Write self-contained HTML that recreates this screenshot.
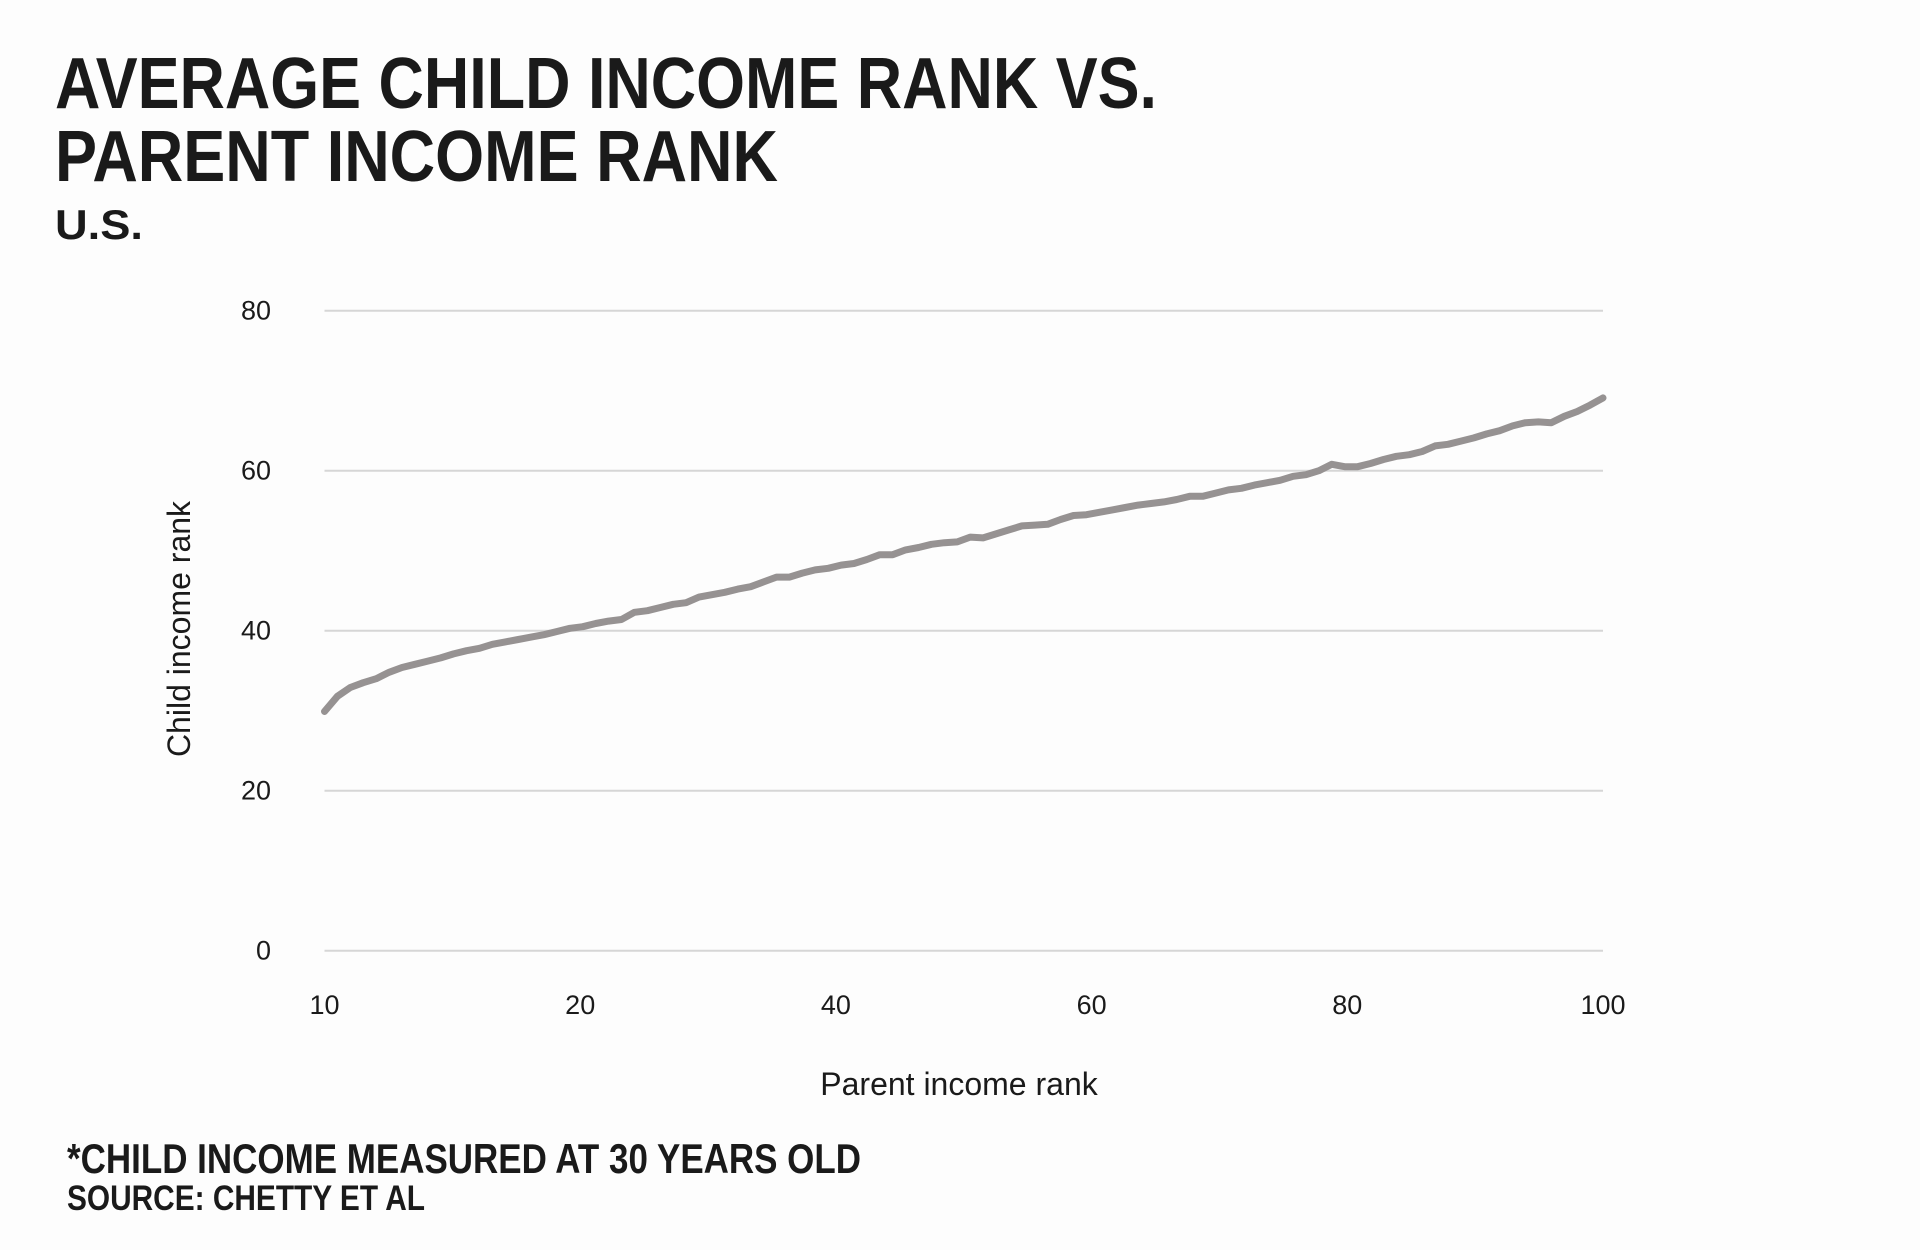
<!DOCTYPE html>
<html><head><meta charset="utf-8"><style>
html,body{margin:0;padding:0;background:#fdfdfd;}
svg{display:block;}
</style></head><body>
<svg id="chart" width="1920" height="1250" viewBox="0 0 1920 1250" xmlns="http://www.w3.org/2000/svg">
<rect width="1920" height="1250" fill="#fdfdfd"/>
<g font-family="'Liberation Sans', sans-serif" fill="#1a1a1a">
<text x="55" y="108" font-size="72" font-weight="bold" textLength="1102" lengthAdjust="spacingAndGlyphs">AVERAGE CHILD INCOME RANK VS.</text>
<text x="55" y="181" font-size="72" font-weight="bold" textLength="723" lengthAdjust="spacingAndGlyphs">PARENT INCOME RANK</text>
<text x="55" y="239" font-size="42" font-weight="bold" textLength="88" lengthAdjust="spacingAndGlyphs">U.S.</text>
<text x="67" y="1173" font-size="42" font-weight="bold" textLength="794" lengthAdjust="spacingAndGlyphs">*CHILD INCOME MEASURED AT 30 YEARS OLD</text>
<text x="67" y="1210" font-size="35" font-weight="bold" textLength="358" lengthAdjust="spacingAndGlyphs">SOURCE: CHETTY ET AL</text>
<text x="959" y="1095" font-size="32" text-anchor="middle">Parent income rank</text>
<text transform="translate(190,629) rotate(-90)" font-size="32" text-anchor="middle">Child income rank</text>
</g>
<g id="grid"></g>
<g id="yticks"></g>
<g id="xticks"></g>
<g id="series"></g>
</svg>
<script>
const yTickValues = [0, 20, 40, 60, 80];
const xTickLabels = ["10", "20", "40", "60", "80", "100"];
const parentRank = [];
for (let i = 1; i <= 100; i++) parentRank.push(i);
const childRank = [29.9,31.8,32.9,33.5,34.0,34.8,35.4,35.8,36.2,36.6,
37.1,37.5,37.8,38.3,38.6,38.9,39.2,39.5,39.9,40.3,
40.5,40.9,41.2,41.4,42.3,42.5,42.9,43.3,43.5,44.2,
44.5,44.8,45.2,45.5,46.1,46.7,46.7,47.2,47.6,47.8,
48.2,48.4,48.9,49.5,49.5,50.1,50.4,50.8,51.0,51.1,
51.7,51.6,52.1,52.6,53.1,53.2,53.3,53.9,54.4,54.5,
54.8,55.1,55.4,55.7,55.9,56.1,56.4,56.8,56.8,57.2,
57.6,57.8,58.2,58.5,58.8,59.3,59.5,60.0,60.8,60.5,
60.5,60.9,61.4,61.8,62.0,62.4,63.1,63.3,63.7,64.1,
64.6,65.0,65.6,66.0,66.1,66.0,66.8,67.4,68.2,69.1];

const NS = "http://www.w3.org/2000/svg";
const X0 = 324.5, X1 = 1603, Y0 = 950.7, PX_PER_UNIT = 8;
function xScale(p){ return X0 + (p - 1) / 99 * (X1 - X0); }
function xTickPos(i){ return X0 + i / (xTickLabels.length - 1) * (X1 - X0); }
function yScale(v){ return Y0 - v * PX_PER_UNIT; }

const grid = document.getElementById('grid');
const yt = document.getElementById('yticks');
yTickValues.forEach(v => {
  const l = document.createElementNS(NS, 'line');
  l.setAttribute('x1', X0); l.setAttribute('x2', X1);
  l.setAttribute('y1', yScale(v)); l.setAttribute('y2', yScale(v));
  l.setAttribute('stroke', '#d6d6d6'); l.setAttribute('stroke-width', '2');
  
  
  grid.appendChild(l);
  const t = document.createElementNS(NS, 'text');
  t.setAttribute('x', 271); t.setAttribute('y', yScale(v) + 9);
  t.setAttribute('text-anchor', 'end'); t.setAttribute('font-size', '27');
  t.setAttribute('font-family', "'Liberation Sans', sans-serif"); t.setAttribute('fill', '#1a1a1a');
  t.textContent = v;
  
  
  yt.appendChild(t);
});
const xt = document.getElementById('xticks');
xTickLabels.forEach((lab, i) => {
  const t = document.createElementNS(NS, 'text');
  t.setAttribute('x', xTickPos(i)); t.setAttribute('y', 1014);
  t.setAttribute('text-anchor', 'middle'); t.setAttribute('font-size', '27');
  t.setAttribute('font-family', "'Liberation Sans', sans-serif"); t.setAttribute('fill', '#1a1a1a');
  t.textContent = lab;
  
  
  xt.appendChild(t);
});
const d = childRank.map((v, i) => (i ? 'L' : 'M') + xScale(parentRank[i]).toFixed(1) + ',' + yScale(v).toFixed(1)).join(' ');
const path = document.createElementNS(NS, 'path');
path.setAttribute('d', d);
path.setAttribute('fill', 'none'); path.setAttribute('stroke', '#969292');
path.setAttribute('stroke-width', '7'); path.setAttribute('stroke-linecap', 'round'); path.setAttribute('stroke-linejoin', 'round');


document.getElementById('series').appendChild(path);
</script>
</body></html>
